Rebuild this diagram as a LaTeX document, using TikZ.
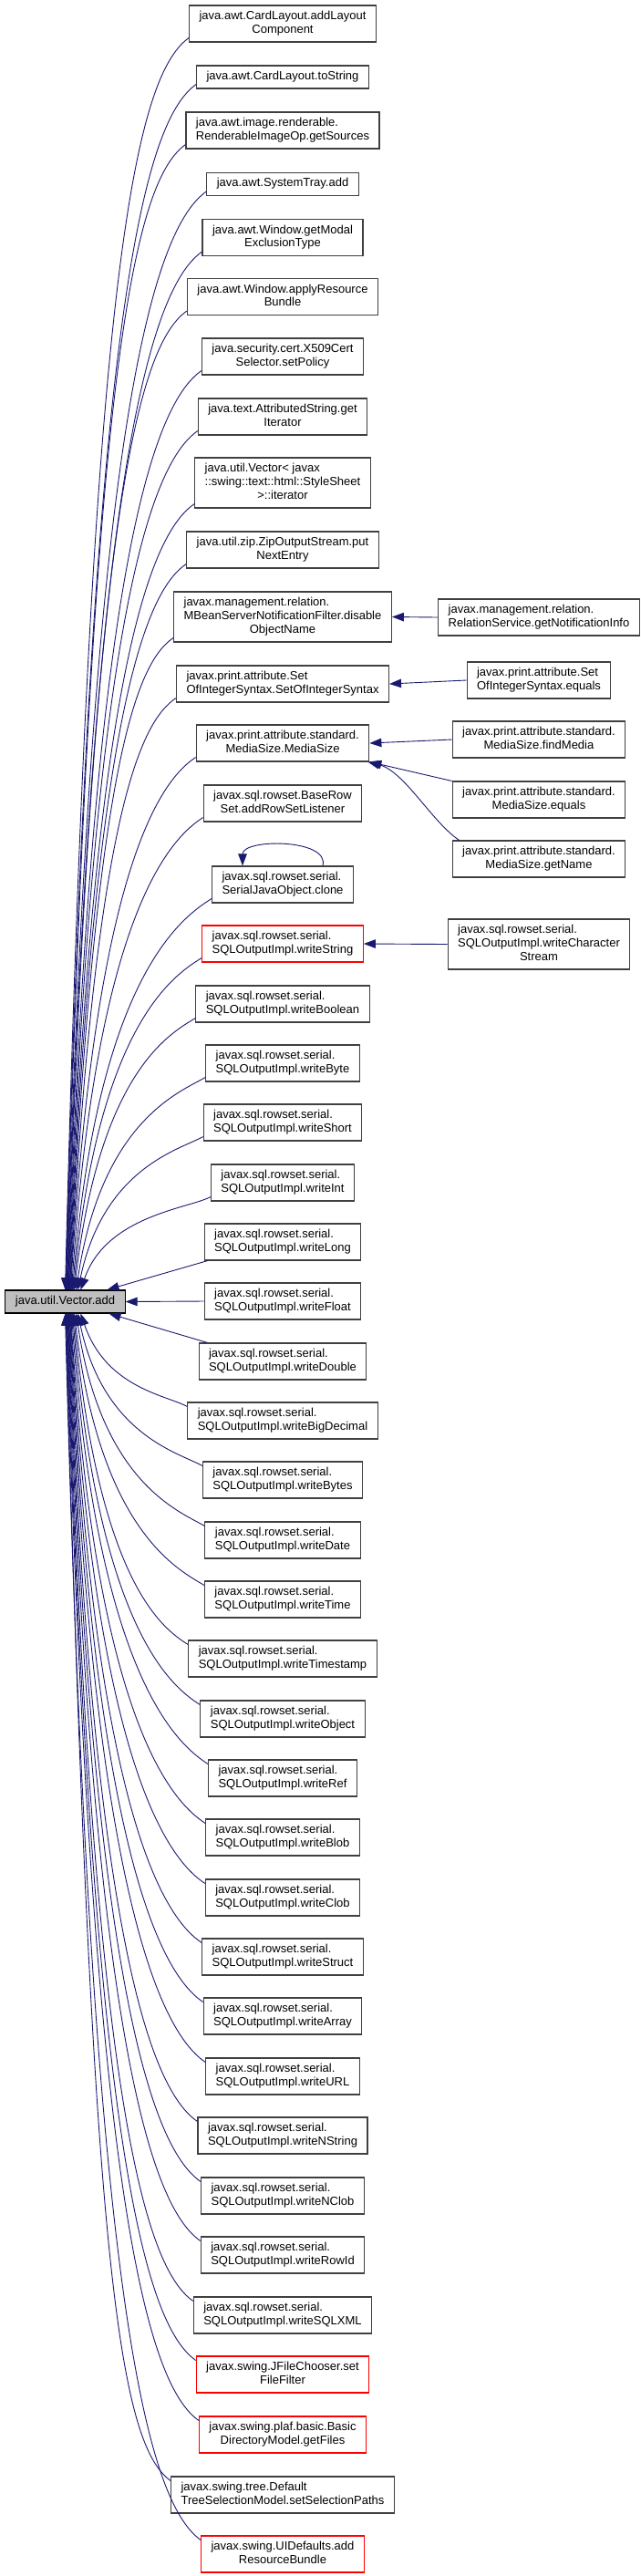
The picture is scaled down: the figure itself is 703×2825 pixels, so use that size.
\documentclass[tikz,border=0pt]{standalone}
\usepackage{fontspec}
\setmainfont{Liberation Sans}
\usepackage{tikz}
\usetikzlibrary{arrows.meta,calc}
\definecolor{edgeblue}{HTML}{191970}
\definecolor{boxline}{HTML}{404040}
\newcommand{\fnlabel}[2]{\begin{tabular}{@{}l@{}}#1\\\multicolumn{1}{@{}c@{}}{#2}\end{tabular}}
\tikzset{
  fn/.style={rectangle, draw=boxline, line width=1.1pt, fill=white, inner xsep=11pt, inner ysep=0pt,
    minimum height=25pt, font=\fontsize{13}{14.7}\selectfont, execute at begin node=\strut},
  ln2/.style={minimum height=40pt},
  ln3/.style={minimum height=55pt},
  hot/.style={draw=red},
  cur/.style={fill=gray!50, draw=black},
  call/.style={-{Triangle[length=13pt,width=9.5pt]}, line width=0.9pt, color=edgeblue}
}

\begin{document}
\begin{tikzpicture}[x=1pt, y=1pt]
\useasboundingbox (0,0) rectangle (703,-2825);
% the method itself
\node[fn, cur] (vadd) at (71.5,-1427.5) {java.util.Vector.add};
% callers, left column
\node[fn, ln2] (addLC) at (310,-26) {\fnlabel{java.awt.CardLayout.addLayout}{Component}};
\node[fn] (cardStr) at (310,-84.5) {java.awt.CardLayout.toString};
\node[fn, ln2] (getSrc) at (310,-143) {\fnlabel{java.awt.image.renderable.}{RenderableImageOp.getSources}};
\node[fn] (trayAdd) at (310,-202) {java.awt.SystemTray.add};
\node[fn, ln2] (modal) at (310,-260.5) {\fnlabel{java.awt.Window.getModal}{ExclusionType}};
\node[fn, ln2] (applyRB) at (310,-325.5) {\fnlabel{java.awt.Window.applyResource}{Bundle}};
\node[fn, ln2] (setPol) at (310,-391) {\fnlabel{java.security.cert.X509Cert}{Selector.setPolicy}};
\node[fn, ln2] (attrIt) at (310,-457) {\fnlabel{java.text.AttributedString.get}{Iterator}};
\node[fn, ln3] (ssIt) at (310,-529.5) {\fnlabel{java.util.Vector< javax\\::swing::text::html::StyleSheet}{>::iterator}};
\node[fn, ln2] (zipPut) at (310,-603) {\fnlabel{java.util.zip.ZipOutputStream.put}{NextEntry}};
\node[fn, ln3] (disObj) at (310,-676.5) {\fnlabel{javax.management.relation.\\MBeanServerNotificationFilter.disable}{ObjectName}};
\node[fn, ln2] (setInt) at (310,-750) {\fnlabel{javax.print.attribute.Set}{OfIntegerSyntax.SetOfIntegerSyntax}};
\node[fn, ln2] (msize) at (310,-815) {\fnlabel{javax.print.attribute.standard.}{MediaSize.MediaSize}};
\node[fn, ln2] (addRSL) at (310,-881) {\fnlabel{javax.sql.rowset.BaseRow}{Set.addRowSetListener}};
\node[fn, ln2] (clone) at (310,-970) {\fnlabel{javax.sql.rowset.serial.}{SerialJavaObject.clone}};
\node[fn, ln2, hot] (wStr) at (310,-1035) {\fnlabel{javax.sql.rowset.serial.}{SQLOutputImpl.writeString}};
\node[fn, ln2] (wBool) at (310,-1101) {\fnlabel{javax.sql.rowset.serial.}{SQLOutputImpl.writeBoolean}};
\node[fn, ln2] (wByte) at (310,-1166) {\fnlabel{javax.sql.rowset.serial.}{SQLOutputImpl.writeByte}};
\node[fn, ln2] (wShort) at (310,-1231) {\fnlabel{javax.sql.rowset.serial.}{SQLOutputImpl.writeShort}};
\node[fn, ln2] (wInt) at (310,-1297) {\fnlabel{javax.sql.rowset.serial.}{SQLOutputImpl.writeInt}};
\node[fn, ln2] (wLong) at (310,-1362) {\fnlabel{javax.sql.rowset.serial.}{SQLOutputImpl.writeLong}};
\node[fn, ln2] (wFloat) at (310,-1427) {\fnlabel{javax.sql.rowset.serial.}{SQLOutputImpl.writeFloat}};
\node[fn, ln2] (wDbl) at (310,-1493) {\fnlabel{javax.sql.rowset.serial.}{SQLOutputImpl.writeDouble}};
\node[fn, ln2] (wBD) at (310,-1558) {\fnlabel{javax.sql.rowset.serial.}{SQLOutputImpl.writeBigDecimal}};
\node[fn, ln2] (wBytes) at (310,-1623) {\fnlabel{javax.sql.rowset.serial.}{SQLOutputImpl.writeBytes}};
\node[fn, ln2] (wDate) at (310,-1689) {\fnlabel{javax.sql.rowset.serial.}{SQLOutputImpl.writeDate}};
\node[fn, ln2] (wTime) at (310,-1754) {\fnlabel{javax.sql.rowset.serial.}{SQLOutputImpl.writeTime}};
\node[fn, ln2] (wTS) at (310,-1819) {\fnlabel{javax.sql.rowset.serial.}{SQLOutputImpl.writeTimestamp}};
\node[fn, ln2] (wObj) at (310,-1885) {\fnlabel{javax.sql.rowset.serial.}{SQLOutputImpl.writeObject}};
\node[fn, ln2] (wRef) at (310,-1950) {\fnlabel{javax.sql.rowset.serial.}{SQLOutputImpl.writeRef}};
\node[fn, ln2] (wBlob) at (310,-2015) {\fnlabel{javax.sql.rowset.serial.}{SQLOutputImpl.writeBlob}};
\node[fn, ln2] (wClob) at (310,-2081) {\fnlabel{javax.sql.rowset.serial.}{SQLOutputImpl.writeClob}};
\node[fn, ln2] (wStruct) at (310,-2146) {\fnlabel{javax.sql.rowset.serial.}{SQLOutputImpl.writeStruct}};
\node[fn, ln2] (wArr) at (310,-2211) {\fnlabel{javax.sql.rowset.serial.}{SQLOutputImpl.writeArray}};
\node[fn, ln2] (wURL) at (310,-2277) {\fnlabel{javax.sql.rowset.serial.}{SQLOutputImpl.writeURL}};
\node[fn, ln2] (wNStr) at (310,-2342) {\fnlabel{javax.sql.rowset.serial.}{SQLOutputImpl.writeNString}};
\node[fn, ln2] (wNClob) at (310,-2408) {\fnlabel{javax.sql.rowset.serial.}{SQLOutputImpl.writeNClob}};
\node[fn, ln2] (wRowId) at (310,-2473) {\fnlabel{javax.sql.rowset.serial.}{SQLOutputImpl.writeRowId}};
\node[fn, ln2] (wXML) at (310,-2539) {\fnlabel{javax.sql.rowset.serial.}{SQLOutputImpl.writeSQLXML}};
\node[fn, ln2, hot] (setFF) at (310,-2604) {\fnlabel{javax.swing.JFileChooser.set}{FileFilter}};
\node[fn, ln2, hot] (getFiles) at (310,-2670) {\fnlabel{javax.swing.plaf.basic.Basic}{DirectoryModel.getFiles}};
\node[fn, ln2] (setSP) at (310,-2736) {\fnlabel{javax.swing.tree.Default}{TreeSelectionModel.setSelectionPaths}};
\node[fn, ln2, hot] (addRB) at (310,-2801) {\fnlabel{javax.swing.UIDefaults.add}{ResourceBundle}};
% second level callers, right column
\node[fn, ln2] (getNI) at (591,-677) {\fnlabel{javax.management.relation.}{RelationService.getNotificationInfo}};
\node[fn, ln2] (setEq) at (591,-746) {\fnlabel{javax.print.attribute.Set}{OfIntegerSyntax.equals}};
\node[fn, ln2] (findM) at (591,-811) {\fnlabel{javax.print.attribute.standard.}{MediaSize.findMedia}};
\node[fn, ln2] (msEq) at (591,-877) {\fnlabel{javax.print.attribute.standard.}{MediaSize.equals}};
\node[fn, ln2] (msName) at (591,-942) {\fnlabel{javax.print.attribute.standard.}{MediaSize.getName}};
\node[fn, ln3] (wCS) at (591,-1035.5) {\fnlabel{javax.sql.rowset.serial.\\SQLOutputImpl.writeCharacter}{Stream}};
% edges into the method, from above
\foreach \src/\dx in {addLC/0, cardStr/0.5, getSrc/1, trayAdd/1.5, modal/2, applyRB/2.5, setPol/3,
    attrIt/3.5, ssIt/4, zipPut/4.5, disObj/5, setInt/5.5, msize/6, addRSL/7, clone/8, wStr/9,
    wBool/10, wByte/12, wShort/14, wInt/17}
  \draw[call] let \p1=([yshift=5pt]\src.south west), \p2=([xshift=\dx pt]vadd.north), \n1={\y1-(\y2)} in
    (\p1) .. controls +({-20-0.03*\n1},{-10-0.025*\n1}) and +(28,{0.8*\n1}) .. (\p2);
\draw[call] ([xshift=4pt]wLong.south west) -- ([xshift=46pt]vadd.north);
\draw[call] (wFloat.west) -- (vadd.east);
\draw[call] ([xshift=10pt]wDbl.north west) -- ([xshift=48pt]vadd.south);
% edges into the method, from below
\foreach \src/\dx in {wBD/17, wBytes/14, wDate/12, wTime/10, wTS/9, wObj/8, wRef/7, wBlob/6,
    wClob/5.5, wStruct/5, wArr/4.5, wURL/4, wNStr/3.5, wNClob/3, wRowId/2.5, wXML/2,
    setFF/1.5, getFiles/1, setSP/0.5, addRB/0}
  \draw[call] let \p1=([yshift=-5pt]\src.north west), \p2=([xshift=\dx pt]vadd.south), \n1={\y2-(\y1)} in
    (\p1) .. controls +({-20-0.03*\n1},{10+0.025*\n1}) and +(28,{-0.8*\n1}) .. (\p2);
% second level edges
\draw[call] (getNI.west) -- (disObj.east);
\draw[call] (setEq.west) -- (setInt.east);
\draw[call] (findM.west) -- (msize.east);
\draw[call] (msEq.north west) -- (msize.south east);
\draw[call] ([xshift=8pt]msName.north west) .. controls +(-30,20) and +(40,-10) .. ([xshift=-2pt]msize.south east);
\draw[call] (wCS.west) -- (wStr.east);
\draw[call] ([xshift=44pt]clone.north) .. controls +(8,30) and +(0,30) .. ([xshift=-44pt]clone.north);
\end{tikzpicture}
\end{document}
